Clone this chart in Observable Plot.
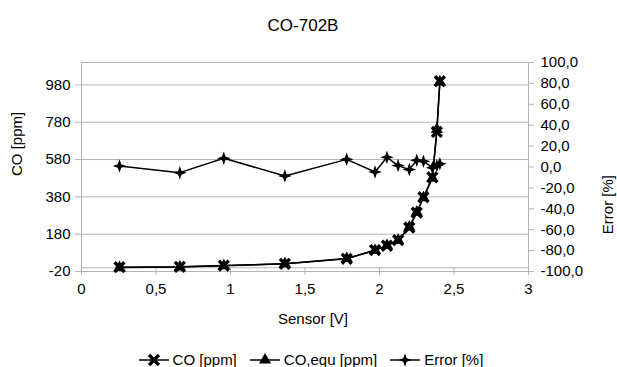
<!DOCTYPE html>
<html><head><meta charset="utf-8">
<script src="https://cdn.jsdelivr.net/npm/d3@7"></script>
<script src="https://cdn.jsdelivr.net/npm/@observablehq/plot@0.6"></script>
<style>
body{margin:0;background:#fff;font-family:"Liberation Sans",Arial,sans-serif;color:#000;}
#chart svg{display:block;}
#legend{height:21px;padding-top:3px;display:flex;justify-content:center;align-items:center;font-size:15px;padding-left:4px;}
#legend .item{display:flex;align-items:center;margin:0 6px;}
#legend svg{display:block;margin-right:3px;}
</style></head><body>
<div id="chart"></div><div id="legend"></div>
<script>
const title = "CO-702B";
const xLabel = "Sensor [V]";
const yLabel = "CO [ppm]";
const y2Label = "Error [%]";
const seriesNames = ["CO [ppm]", "CO,equ [ppm]", "Error [%]"];
const sensor = [0.255, 0.66, 0.955, 1.365, 1.78, 1.97, 2.05, 2.125, 2.20, 2.25, 2.295, 2.355, 2.385, 2.405];
const co     = [3, 5, 12, 21, 48, 95, 118, 148, 215, 295, 378, 485, 728, 1000];
const coEqu  = [2, 4, 11, 22, 50, 93, 120, 147, 218, 298, 375, 480, 741, 995];
const errPct = [1.0, -5.4, 8.3, -8.6, 7.3, -4.8, 9.3, 1.4, -2.5, 6.5, 5.5, -0.7, 1.5, 3.0];
const xTicks = [0, 0.5, 1, 1.5, 2, 2.5, 3];
const yTicks = [-20, 180, 380, 580, 780, 980];
const errTicks = [-100, -80, -60, -40, -20, 0, 20, 40, 60, 80, 100];

const yMin = -20, yMax = 1100, eMin = -100, eMax = 100;
const toLeft = e => yMin + (e - eMin) / (eMax - eMin) * (yMax - yMin);
const fromLeft = v => eMin + (v - yMin) / (yMax - yMin) * (eMax - eMin);
const comma = d => String(d).replace(".", ",");
const fmtErr = v => Math.round(fromLeft(v)).toFixed(1).replace(".", ",");

const rows = sensor.map((s, i) => ({s, co: co[i], eq: coEqu[i], err: toLeft(errPct[i])}));

// custom symbols
const xSym = {draw(ctx, size) {
  const r = Math.sqrt(size / Math.PI) * 1.4, w = r * 0.24;
  const p = [[-w,-r],[w,-r],[w,-w],[r,-w],[r,w],[w,w],[w,r],[-w,r],[-w,w],[-r,w],[-r,-w],[-w,-w]];
  const q = p.map(([x, y]) => [(x - y) / Math.SQRT2, (x + y) / Math.SQRT2]);
  ctx.moveTo(q[0][0], q[0][1]);
  for (let i = 1; i < q.length; i++) ctx.lineTo(q[i][0], q[i][1]);
  ctx.closePath();
}};
const starSym = {draw(ctx, size) {
  const r = Math.sqrt(size / Math.PI) * 1.35, w = r * 0.26;
  const p = [[0,-r],[w,-w],[r,0],[w,w],[0,r],[-w,w],[-r,0],[-w,-w]];
  ctx.moveTo(p[0][0], p[0][1]);
  for (let i = 1; i < p.length; i++) ctx.lineTo(p[i][0], p[i][1]);
  ctx.closePath();
}};
const triSym = d3.symbolTriangle;

const grid = "#b3b3b3";
const fs = 15;

const chart = Plot.plot({
  width: 617,
  height: 346,
  marginTop: 62,
  marginBottom: 75,
  marginLeft: 81,
  marginRight: 89,
  style: {fontFamily: "'Liberation Sans', Arial, sans-serif", fontSize: fs + "px", background: "#fff", color: "#000"},
  x: {domain: [0, 3]},
  y: {domain: [yMin, yMax]},
  marks: [
    Plot.ruleY(yTicks, {stroke: grid, strokeWidth: 1}),
    Plot.frame({stroke: grid}),
    Plot.ruleY([0], {stroke: grid}),
    Plot.ruleX(xTicks, {y1: -20, y2: 0, stroke: grid}),
    Plot.axisX({ticks: xTicks, tickFormat: comma, tickSize: 4, tickPadding: 8, stroke: grid, fill: "black", fontSize: fs, label: null}),
    Plot.axisY({ticks: yTicks, tickSize: 6, tickPadding: 5, stroke: grid, fill: "black", fontSize: fs, label: null, tickFormat: d => String(d)}),
    Plot.axisY({anchor: "right", ticks: errTicks.map(toLeft), tickFormat: fmtErr, tickSize: 5, tickPadding: 7, stroke: grid, fill: "black", fontSize: fs, label: null}),
    Plot.line(rows, {x: "s", y: "err", stroke: "black", strokeWidth: 1.5}),
    Plot.dot(rows, {x: "s", y: "err", symbol: starSym, r: 5, fill: "black", stroke: "none"}),
    Plot.line(rows, {x: "s", y: "co", stroke: "black", strokeWidth: 1.5}),
    Plot.dot(rows, {x: "s", y: "co", symbol: xSym, r: 5, fill: "black", stroke: "none"}),
    Plot.line(rows, {x: "s", y: "eq", stroke: "black", strokeWidth: 1.5}),
    Plot.dot(rows, {x: "s", y: "eq", symbol: triSym, r: 4.5, fill: "black", stroke: "none"}),
    Plot.text([title], {frameAnchor: "top", lineAnchor: "middle", dy: -37, dx: -2, fontSize: 17, fill: "black"}),
    Plot.text([xLabel], {frameAnchor: "bottom", lineAnchor: "middle", dy: 48, dx: 8, fontSize: fs, fill: "black"}),
    Plot.text([yLabel], {frameAnchor: "left", lineAnchor: "middle", dx: -64, dy: 9, rotate: -90, fontSize: fs, fill: "black"}),
    Plot.text([y2Label], {frameAnchor: "right", lineAnchor: "middle", dx: 80, dy: 8, rotate: -90, fontSize: fs, fill: "black"})
  ]
});
document.getElementById("chart").appendChild(chart);

// legend
const legendSyms = [[xSym, 5], [triSym, 4.5], [starSym, 5]];
const leg = d3.select("#legend");
seriesNames.forEach((name, i) => {
  const it = leg.append("div").attr("class", "item");
  const svg = it.append("svg").attr("width", 32).attr("height", 14);
  svg.append("line").attr("x1", 1).attr("x2", 31).attr("y1", 7).attr("y2", 7).attr("stroke", "black").attr("stroke-width", 1.5);
  const [sym, r] = legendSyms[i];
  svg.append("path").attr("transform", "translate(16,7)").attr("d", d3.symbol(sym, r * r * Math.PI)()).attr("fill", "black");
  it.append("span").text(name);
});
</script>
</body></html>
